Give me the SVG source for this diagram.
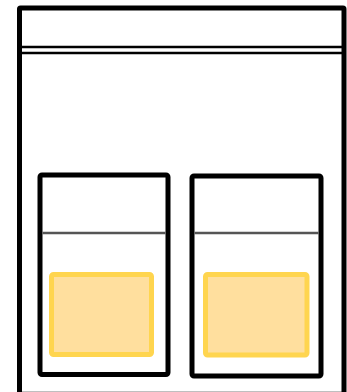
<svg xmlns="http://www.w3.org/2000/svg" width="347" height="392" viewBox="0 0 347 392">
<style>
.frame{fill:#fff;stroke:#000;stroke-width:5}
.box{fill:#fff;stroke:#000;stroke-width:5}
.div{stroke:#555;stroke-width:2.5}
.slot{fill:#FFDF9E;stroke:#FFD54F;stroke-width:5}
.rule{stroke:#000;stroke-width:2.5}
</style>
<rect width="347" height="392" fill="#fff"/>
<g id="frame">
<rect class="frame" x="19.5" y="8" width="324.5" height="386.3" rx="1"/>
<line class="rule" x1="19.5" y1="47" x2="344" y2="47"/>
<line class="rule" x1="19.5" y1="53" x2="344" y2="53"/>
</g>
<g id="left">
<rect class="box" x="40" y="175" width="128" height="199.5" rx="2"/>
<line class="div" x1="42.5" y1="233" x2="165.5" y2="233"/>
<rect class="slot" x="51.5" y="274.5" width="100" height="80" rx="2"/>
</g>
<g id="right">
<rect class="box" x="192" y="176" width="129" height="200" rx="2"/>
<line class="div" x1="194.5" y1="233" x2="318.5" y2="233"/>
<rect class="slot" x="205.5" y="274.5" width="101.5" height="80.5" rx="2"/>
</g>
<g id="connectors"/>
</svg>
